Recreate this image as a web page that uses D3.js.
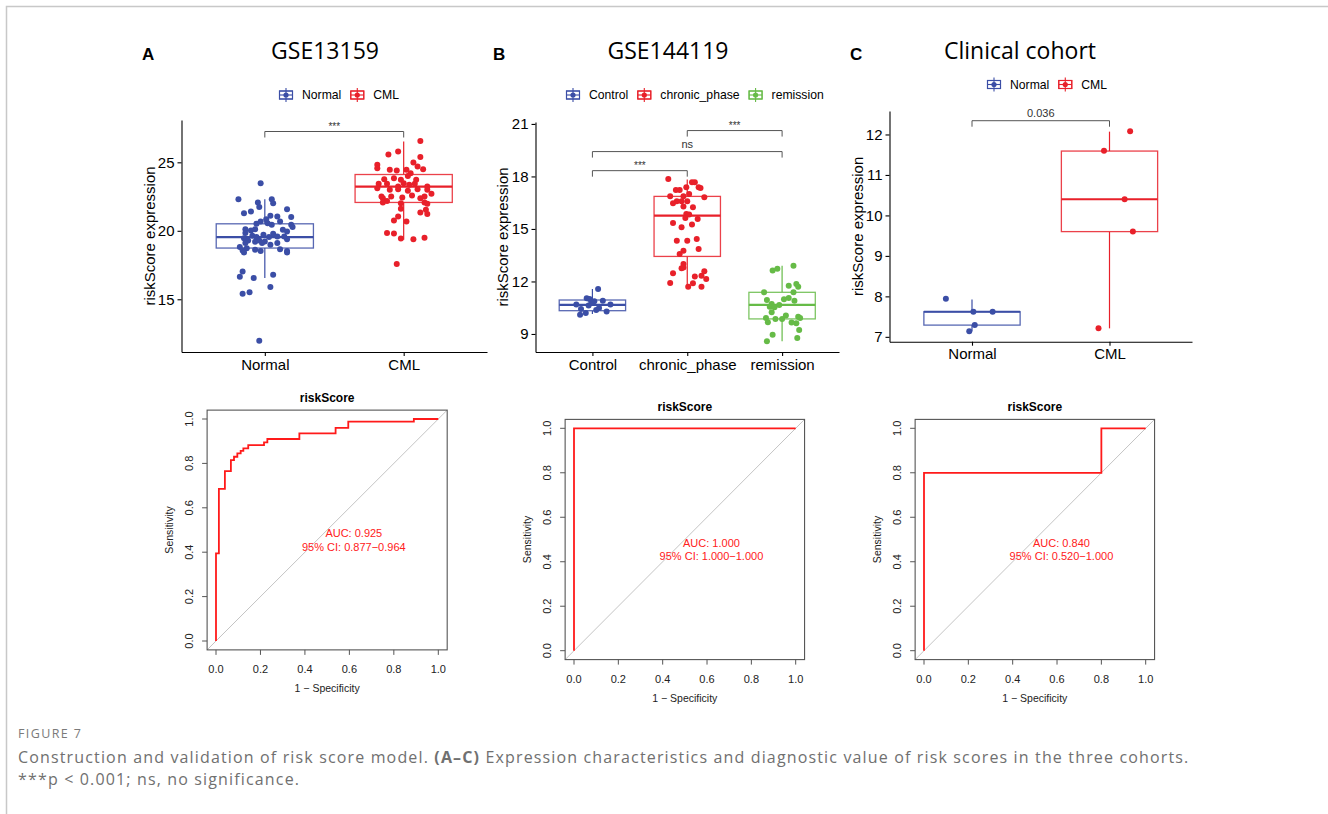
<!DOCTYPE html>
<html>
<head>
<meta charset="utf-8">
<script src="https://cdn.jsdelivr.net/npm/d3@7"></script>
<style>
  body { margin: 0; background: #fff; }
  text { font-family: "Liberation Sans", Arial, sans-serif; }
</style>
</head>
<body>
<div id="fig"></div>
<script>
// ---------------- data ----------------
// box stats: [lower whisker, Q1, median, Q3, upper whisker]
const catsA = ["Normal", "CML"];
const boxA = [[16.55, 18.74, 19.54, 20.51, 22.3], [19.34, 22.07, 23.23, 24.11, 26.52]];
const normalA = [23.48,22.31,22.31,22.02,22.07,21.73,21.41,21.29,21.58,21.0,21.09,20.85,21.05,20.68,20.68,20.51,20.56,20.44,20.44,20.27,
  20.12,20.02,20.12,20.07,19.95,19.83,19.71,19.78,19.59,19.54,19.64,19.54,19.46,19.39,19.59,19.29,19.22,19.29,19.2,19.1,
  19.1,18.98,19.1,18.81,18.73,18.61,18.52,18.56,18.42,18.66,18.52,18.42,17.03,16.79,16.64,16.55,15.89,15.52,15.4,11.97];
const normalAjit = [-0.03,-0.19,0.05,0.06,-0.05,-0.04,-0.10,-0.15,0.16,0.19,0.04,0.01,0.09,0.11,-0.03,-0.06,0.02,0.05,0.19,0.20,
  -0.14,-0.10,-0.07,0.13,0.16,-0.14,-0.01,0.06,0.09,0.03,-0.09,-0.06,-0.15,0.16,0.14,-0.12,0.00,-0.04,-0.07,0.09,
  -0.14,0.04,-0.02,-0.18,-0.13,-0.07,-0.03,-0.16,-0.15,0.11,0.16,0.16,-0.16,0.06,-0.18,-0.08,0.04,-0.11,-0.16,-0.04];
const cmlA = [26.55,25.79,25.57,25.38,24.82,24.57,24.99,24.70,24.50,24.45,24.4,24.45,24.21,24.01,23.77,23.84,23.72,23.72,23.43,23.48,
  23.36,23.43,23.43,23.24,23.24,23.11,23.04,23.04,22.99,22.92,22.99,22.70,22.58,22.51,22.51,22.43,22.38,22.38,22.51,22.17,
  22.02,22.07,21.97,22.07,21.61,21.34,21.53,21.22,21.05,20.75,20.68,19.83,19.81,19.44,19.39,19.49,17.57];
const cmlAjit = [0.12,-0.04,-0.11,0.12,-0.19,-0.19,0.07,0.10,0.14,-0.10,-0.05,0.02,0.05,0.03,-0.14,-0.07,-0.02,0.09,-0.18,0.0,
  0.04,0.08,-0.12,-0.04,0.17,-0.19,-0.04,0.10,-0.10,0.03,0.17,0.20,0.06,-0.16,-0.09,-0.01,-0.15,0.12,0.15,-0.12,
  -0.02,0.15,0.17,-0.15,-0.02,0.12,0.16,0.17,-0.04,-0.07,0.02,-0.12,-0.07,-0.02,0.07,0.15,-0.05];

const catsB = ["Control", "chronic_phase", "remission"];
const boxB = [[10.14, 10.33, 10.66, 10.94, 11.57], [11.66, 13.43, 15.76, 16.86, 17.82], [8.58, 9.86, 10.66, 11.38, 12.9]];
const controlB = [11.57,11.04,11.0,10.87,10.9,10.68,10.62,10.68,10.43,10.49,10.28,10.2,10.1,10.37,10.81];
const controlBjit = [0.06,-0.06,-0.03,0.02,0.11,-0.17,-0.04,0.19,-0.12,0.07,0.15,-0.07,-0.13,0.04,-0.01];
const chronicB = [17.86,17.67,17.67,17.23,17.23,17.38,17.38,17.34,17.0,16.87,16.87,16.81,16.58,16.47,16.58,16.58,16.24,16.28,15.86,15.82,
  15.63,15.57,15.34,15.25,15.1,14.33,14.33,14.43,13.86,13.76,13.57,13.0,12.75,12.8,12.47,12.33,12.28,12.58,12.14,11.91,11.9,11.7,11.7];
const chronicBjit = [-0.20,0.05,0.08,-0.12,-0.08,-0.01,0.12,0.14,0.02,-0.18,-0.04,0.18,-0.11,-0.15,-0.06,0.0,0.06,-0.04,-0.01,0.02,
  -0.02,0.11,-0.15,0.05,-0.06,-0.11,0.0,0.10,0.12,-0.04,-0.08,-0.04,-0.06,-0.04,-0.15,0.15,0.08,0.18,0.20,-0.18,0.06,0.01,0.15];
const remissionB = [12.9,12.62,12.73,11.86,11.7,11.76,11.38,11.38,11.06,10.94,10.99,10.9,10.71,10.66,10.56,10.52,10.24,10.05,9.99,9.91,
  9.91,9.86,9.86,9.61,9.67,9.65,9.23,8.96,8.77,8.58];
const remissionBjit = [0.12,-0.10,-0.05,0.15,0.17,0.07,0.12,-0.19,0.07,-0.16,0.02,0.13,-0.11,-0.03,-0.13,-0.08,-0.11,0.04,0.17,0.19,
  -0.17,-0.07,0.0,0.15,-0.15,0.10,0.18,-0.10,0.16,-0.16];

const catsC = ["Normal", "CML"];
const boxC = [[7.14, 7.29, 7.62, 7.62, 7.92], [7.21, 9.6, 10.4, 11.59, 12.07]];
const normalC = [7.94, 7.62, 7.62, 7.29, 7.14];
const normalCjit = [-0.19, 0.01, 0.15, 0.02, -0.02];
const cmlC = [12.08, 11.6, 10.4, 9.6, 7.21];
const cmlCjit = [0.15, -0.04, 0.11, 0.17, -0.08];

// significance brackets: [from group, to group, y value, label]
const sigA = [[1, 2, 27.25, "***"]];
const sigB = [[1, 2, 18.33, "***"], [1, 3, 19.42, "ns"], [2, 3, 20.62, "***"]];
const sigC = [[1, 2, 12.34, "0.036"]];

// ROC curves (1 - specificity, sensitivity), step vertices
const rocAfpr = [0, 0, 0.013, 0.04, 0.067, 0.081, 0.096, 0.111, 0.123, 0.145, 0.216, 0.231, 0.375, 0.538, 0.595, 0.89, 1];
const rocAtpr = [0, 0.395, 0.685, 0.765, 0.815, 0.83, 0.845, 0.856, 0.868, 0.882, 0.895, 0.91, 0.935, 0.96, 0.988, 1, 1];
const rocBfpr = [0, 0, 1];
const rocBtpr = [0, 1, 1];
const rocCfpr = [0, 0, 0.8, 1];
const rocCtpr = [0, 0.8, 1, 1];
const aucA = ["AUC: 0.925", "95% CI: 0.877\u22120.964"];
const aucB = ["AUC: 1.000", "95% CI: 1.000\u22121.000"];
const aucC = ["AUC: 0.840", "95% CI: 0.520\u22121.000"];
const rocTicks = [0, 0.2, 0.4, 0.6, 0.8, 1.0];

// ---------------- drawing ----------------
const blue = "#3b4ea6", red = "#e8202a", green = "#66bb47";

const svg = d3.select("#fig").append("svg")
    .attr("width", 1328)
    .attr("height", 814);

// page frame
svg.append("path")
    .attr("d", "M6.5,814V6.5H1328")
    .attr("fill", "none")
    .attr("stroke", "#c8c8c8")
    .attr("stroke-width", 1.5);

function boxPanel(p) {
    var g = svg.append("g");
    var n = p.cats.length;
    var x = d3.scaleLinear().domain([0.4, n + 0.6]).range([p.x0, p.x1]);
    var y = d3.scaleLinear().domain(p.yDomain).range([p.yB, p.yT]);

    // panel letter + title
    g.append("text").attr("x", p.letterX).attr("y", 60)
        .attr("font-size", 17).attr("font-weight", "bold").text(p.letter);
    g.append("text").attr("x", p.titleX).attr("y", 59)
        .attr("text-anchor", "middle").attr("font-size", 23)
        .style("font-family", "'Open Sans', sans-serif").text(p.title);

    // legend
    var lx = p.legendX;
    p.cats.forEach(function (c, i) {
        var col = p.colors[i];
        var k = g.append("g").attr("transform", `translate(${lx},${p.legendY})`);
        k.append("rect").attr("x", 0.5).attr("y", -4).attr("width", 13).attr("height", 8)
            .attr("fill", "#fff").attr("stroke", col).attr("stroke-width", 1.1);
        k.append("line").attr("x1", 0.5).attr("x2", 13.5).attr("y1", 0).attr("y2", 0)
            .attr("stroke", col).attr("stroke-width", 1.1);
        k.append("line").attr("x1", 7).attr("x2", 7).attr("y1", -7).attr("y2", 7)
            .attr("stroke", col).attr("stroke-width", 1.1);
        k.append("rect").attr("x", 0.5).attr("y", -4).attr("width", 13).attr("height", 8)
            .attr("fill", "none").attr("stroke", col).attr("stroke-width", 1.1);
        k.append("circle").attr("cx", 7).attr("cy", 0).attr("r", 2.6).attr("fill", col);
        var t = g.append("text").attr("x", lx + 23).attr("y", p.legendY + 4.3)
            .attr("font-size", 12.2).text(c);
        lx += 23 + t.node().getComputedTextLength() + 9;
    });

    // axes
    var ya = g.append("g").attr("transform", `translate(${p.x0},0)`)
        .call(d3.axisLeft(y).tickValues(p.yTicks).tickSize(4).tickSizeOuter(0).tickPadding(3).tickFormat(d3.format("d")));
    var xa = g.append("g").attr("transform", `translate(0,${p.yB})`)
        .call(d3.axisBottom(x).tickValues(d3.range(1, n + 1)).tickSize(4).tickSizeOuter(0).tickPadding(3)
            .tickFormat(function (d) { return p.cats[d - 1]; }));
    [ya, xa].forEach(function (a) {
        a.selectAll("text").attr("font-size", 15).attr("fill", "#000")
            .style("font-family", "'Liberation Sans', Arial, sans-serif");
        a.select(".domain").attr("stroke", "#000").attr("stroke-width", 1.1);
        a.selectAll(".tick line").attr("stroke", "#000").attr("stroke-width", 1.1);
    });
    g.append("text")
        .attr("transform", `translate(${p.yTitleX},${(p.yT + p.yB) / 2}) rotate(-90)`)
        .attr("text-anchor", "middle").attr("font-size", 15).text("riskScore expression");

    // boxes
    p.boxes.forEach(function (b, i) {
        var c = i + 1, col = p.colors[i];
        g.append("line").attr("x1", x(c)).attr("x2", x(c)).attr("y1", y(b[4])).attr("y2", y(b[3]))
            .attr("stroke", col).attr("stroke-width", 1.2);
        g.append("line").attr("x1", x(c)).attr("x2", x(c)).attr("y1", y(b[1])).attr("y2", y(b[0]))
            .attr("stroke", col).attr("stroke-width", 1.2);
        g.append("rect").attr("x", x(c - 0.35)).attr("width", x(c + 0.35) - x(c - 0.35))
            .attr("y", y(b[3])).attr("height", y(b[1]) - y(b[3]))
            .attr("fill", "#fff").attr("stroke", col).attr("stroke-opacity", 0.85).attr("stroke-width", 1.3);
        g.append("line").attr("x1", x(c - 0.35)).attr("x2", x(c + 0.35)).attr("y1", y(b[2])).attr("y2", y(b[2]))
            .attr("stroke", col).attr("stroke-width", 2.2);
    });

    // jittered points
    p.points.forEach(function (vals, i) {
        var jit = p.jitter[i];
        g.selectAll(null).data(vals).enter().append("circle")
            .attr("cx", function (d, j) { return x(i + 1 + jit[j]); })
            .attr("cy", function (d) { return y(d); })
            .attr("r", 3)
            .attr("fill", p.colors[i]);
    });

    // significance brackets
    p.sig.forEach(function (s) {
        var yy = y(s[2]);
        g.append("path")
            .attr("d", `M${x(s[0])},${yy + 6}V${yy}H${x(s[1])}V${yy + 6}`)
            .attr("fill", "none").attr("stroke", "#555").attr("stroke-width", 1);
        g.append("text").attr("x", (x(s[0]) + x(s[1])) / 2).attr("y", yy - (s[3] === "***" ? 2 : 4))
            .attr("text-anchor", "middle").attr("font-size", s[3] === "***" ? 10 : 11)
            .attr("fill", "#333").text(s[3]);
    });
}

function rocPanel(p) {
    var g = svg.append("g");
    var x = d3.scaleLinear().domain([0, 1]).range([p.x0, p.x1]);
    var y = d3.scaleLinear().domain([0, 1]).range([p.y0, p.y1]);
    var bx0 = x(-0.04), bx1 = x(1.04), by0 = y(-0.04), by1 = y(1.04);

    // diagonal
    g.append("line").attr("x1", bx0).attr("y1", by0).attr("x2", bx1).attr("y2", by1)
        .attr("stroke", "#c4c4c4").attr("stroke-width", 1);

    // curve
    var line = d3.line()
        .x(function (d) { return x(d[0]); })
        .y(function (d) { return y(d[1]); })
        .curve(d3.curveStepAfter);
    g.append("path")
        .datum(d3.zip(p.fpr, p.tpr))
        .attr("d", line)
        .attr("fill", "none").attr("stroke", "#ff1a1a").attr("stroke-width", 1.8);

    // box
    g.append("rect").attr("x", bx0).attr("y", by1).attr("width", bx1 - bx0).attr("height", by0 - by1)
        .attr("fill", "none").attr("stroke", "#555").attr("stroke-width", 1.1);

    // ticks
    rocTicks.forEach(function (t) {
        g.append("line").attr("x1", x(t)).attr("x2", x(t)).attr("y1", by0).attr("y2", by0 + 5)
            .attr("stroke", "#555");
        g.append("text").attr("x", x(t)).attr("y", by0 + 23).attr("text-anchor", "middle")
            .attr("font-size", 11).attr("fill", "#222").text(d3.format(".1f")(t));
        g.append("line").attr("x1", bx0).attr("x2", bx0 - 5).attr("y1", y(t)).attr("y2", y(t))
            .attr("stroke", "#555");
        g.append("text").attr("transform", `translate(${bx0 - 14},${y(t)}) rotate(-90)`)
            .attr("text-anchor", "middle").attr("font-size", 11).attr("fill", "#222")
            .text(d3.format(".1f")(t));
    });

    g.append("text").attr("x", (bx0 + bx1) / 2).attr("y", by1 - 8).attr("text-anchor", "middle")
        .attr("font-size", 12).attr("font-weight", "bold").text("riskScore");
    g.append("text").attr("x", (bx0 + bx1) / 2).attr("y", by0 + 42).attr("text-anchor", "middle")
        .attr("font-size", 10.5).attr("fill", "#222").text("1 \u2212 Specificity");
    g.append("text").attr("transform", `translate(${bx0 - 34},${(by0 + by1) / 2}) rotate(-90)`)
        .attr("text-anchor", "middle").attr("font-size", 10.5).attr("fill", "#222").text("Sensitivity");

    // AUC label
    p.auc.forEach(function (s, i) {
        g.append("text").attr("x", x(0.62)).attr("y", y(i === 0 ? 0.485 : 0.425) + 4)
            .attr("text-anchor", "middle").attr("font-size", 11).attr("fill", "#ff2020").text(s);
    });
}

boxPanel({
    letter: "A", letterX: 142, title: "GSE13159", titleX: 325,
    cats: catsA, boxes: boxA, points: [normalA, cmlA], jitter: [normalAjit, cmlAjit], sig: sigA,
    colors: [blue, red],
    x0: 181.5, x1: 487, yT: 120, yB: 352, yDomain: [11.15, 28.09], yTicks: [15, 20, 25],
    legendX: 279, legendY: 95, yTitleX: 155
});

boxPanel({
    letter: "B", letterX: 493, title: "GSE144119", titleX: 668,
    cats: catsB, boxes: boxB, points: [controlB, chronicB, remissionB],
    jitter: [controlBjit, chronicBjit, remissionBjit], sig: sigB,
    colors: [blue, red, green],
    x0: 535.5, x1: 839, yT: 122, yB: 352, yDomain: [7.97, 21.11], yTicks: [9, 12, 15, 18, 21],
    legendX: 566, legendY: 95, yTitleX: 508
});

boxPanel({
    letter: "C", letterX: 850, title: "Clinical cohort", titleX: 1020,
    cats: catsC, boxes: boxC, points: [normalC, cmlC], jitter: [normalCjit, cmlCjit], sig: sigC,
    colors: [blue, red],
    x0: 889.5, x1: 1192, yT: 111, yB: 341.7, yDomain: [6.88, 12.58], yTicks: [7, 8, 9, 10, 11, 12],
    legendX: 987, legendY: 84.5, yTitleX: 863
});

rocPanel({ x0: 216, x1: 438.3, y0: 641, y1: 419, fpr: rocAfpr, tpr: rocAtpr, auc: aucA });
rocPanel({ x0: 574, x1: 795.7, y0: 650.7, y1: 428.3, fpr: rocBfpr, tpr: rocBtpr, auc: aucB });
rocPanel({ x0: 924, x1: 1145.7, y0: 650.7, y1: 428.3, fpr: rocCfpr, tpr: rocCtpr, auc: aucC });

// caption
var cap = svg.append("g").attr("fill", "#707070");
cap.append("text").attr("x", 18).attr("y", 738).attr("font-size", 12.5).attr("fill", "#7a7a7a")
    .attr("letter-spacing", 1.4)
    .style("font-family", "'Open Sans', sans-serif").text("FIGURE 7");
var l1 = cap.append("text").attr("x", 18).attr("y", 763).attr("font-size", 16)
    .attr("letter-spacing", 1.15)
    .style("font-family", "'Open Sans', sans-serif");
l1.append("tspan").text("Construction and validation of risk score model. ");
l1.append("tspan").attr("font-weight", "bold").text("(A\u2013C)");
l1.append("tspan").text(" Expression characteristics and diagnostic value of risk scores in the three cohorts.");
cap.append("text").attr("x", 18).attr("y", 785).attr("font-size", 16)
    .attr("letter-spacing", 1.15)
    .style("font-family", "'Open Sans', sans-serif").text("***p < 0.001; ns, no significance.");
</script>
</body>
</html>
